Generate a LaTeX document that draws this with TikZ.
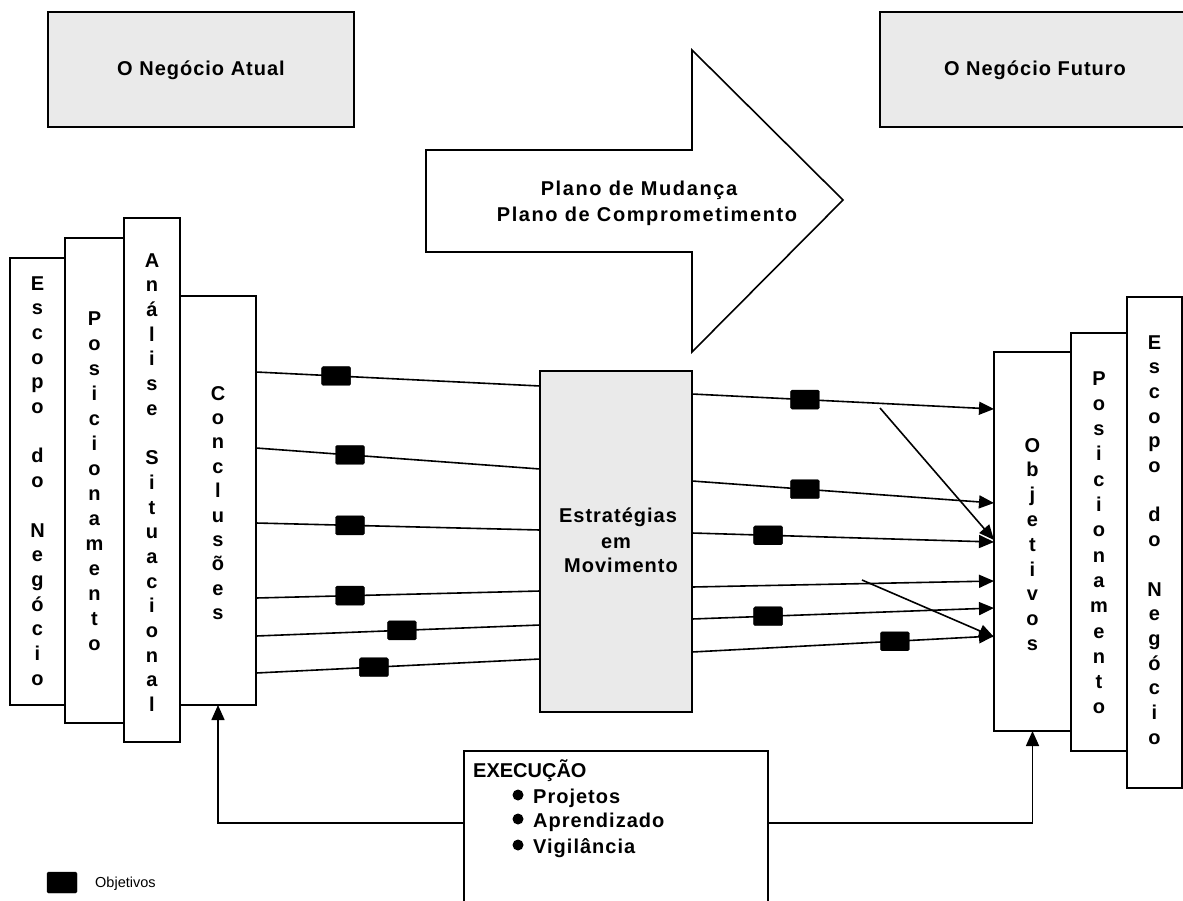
\documentclass[tikz,border=0pt]{standalone}
\usepackage{fontspec}
\setmainfont{Liberation Sans}
\newfontfamily\spacedsans{Liberation Sans}[LetterSpace=5]
\newfontfamily\widesans{Liberation Sans}[LetterSpace=8]
\usetikzlibrary{arrows.meta}
\definecolor{panelgrey}{RGB}{234,234,234}

% one letter per line, stacked down a column
\newcommand\colletters[5]{%
  \foreach \ch [count=\idx from 0] in {#5}{%
    \node[vlet] (#1-\idx) at (#2, {#3 + \idx*#4}) {\ch};
  }}

\tikzset{
  panel/.style={draw=black, line width=1.6pt, fill=white, inner sep=0pt, outer sep=0pt},
  greypanel/.style={panel, fill=panelgrey},
  objmark/.style={fill=black, draw=black, line width=0.4pt, rounded corners=1.5pt,
    minimum width=29pt, minimum height=19pt, inner sep=0pt},
  link/.style={line width=1.6pt},
  arr/.style={link, -{Triangle[length=15pt,width=13pt]}},
  vlet/.style={anchor=base, inner sep=0pt, font=\bfseries\fontsize{20}{24}\selectfont},
  label/.style={anchor=base, inner sep=0pt, font=\spacedsans\bfseries\fontsize{20}{24}\selectfont},
  arrowtext/.style={anchor=base, inner sep=0pt, font=\widesans\bfseries\fontsize{20}{24}\selectfont}
}

\begin{document}
\begin{tikzpicture}[x=1pt, y=-1pt]
\useasboundingbox (0,0) rectangle (1183,900);

% current and future business
\node[greypanel, minimum width=306pt, minimum height=115pt] (atual) at (201,69.5) {};
\node[label] (atual-t) at (201,75) {O Negócio Atual};
\node[greypanel, minimum width=308pt, minimum height=115pt] (futuro) at (1034,69.5) {};
\node[label] (futuro-t) at (1035,75) {O Negócio Futuro};

% big arrow: change plan
\draw[line width=1.6pt, fill=white]
  (426,150) -- (692,150) -- (692,50) -- (843,200) -- (692,352) -- (692,252) -- (426,252) -- cycle;
\node[arrowtext] (plano1) at (639,195) {Plano de Mudança};
\node[arrowtext] (plano2) at (647,221) {Plano de Comprometimento};

% left column stack
\node[panel, minimum width=55pt, minimum height=447pt] (escL) at (37.5,481.5) {};
\node[panel, minimum width=59pt, minimum height=485pt] (posL) at (94.5,480.5) {};
\node[panel, minimum width=56pt, minimum height=524pt] (anaL) at (152,480) {};
\node[panel, minimum width=76pt, minimum height=409pt] (conc) at (218,500.5) {};
\colletters{escL}{37.5}{290}{24.7}{E,s,c,o,p,o,{},d,o,{},N,e,g,ó,c,i,o}
\colletters{posL}{94.5}{325}{25}{P,o,s,i,c,i,o,n,a,m,e,n,t,o}
\colletters{anaL}{152}{267}{24.7}{A,n,á,l,i,s,e,{},S,i,t,u,a,c,i,o,n,a,l}
\colletters{conc}{218}{400}{24.4}{C,o,n,c,l,u,s,õ,e,s}

% right column stack
\node[panel, minimum width=55pt, minimum height=491pt] (escR) at (1154.5,542.5) {};
\node[panel, minimum width=56pt, minimum height=418pt] (posR) at (1099,542) {};
\node[panel, minimum width=77pt, minimum height=379pt] (obj) at (1032.5,541.5) {};
\colletters{escR}{1154.5}{349}{24.7}{E,s,c,o,p,o,{},d,o,{},N,e,g,ó,c,i,o}
\colletters{posR}{1099}{385}{25.3}{P,o,s,i,c,i,o,n,a,m,e,n,t,o}
\colletters{obj}{1032.5}{452}{24.8}{O,b,j,e,t,i,v,o,s}

% strategies in motion
\node[greypanel, minimum width=152pt, minimum height=341pt] (estr) at (616,541.5) {};
\node[label] (estr-1) at (618,522) {Estratégias};
\node[label] (estr-2) at (616,548) {em};
\node[label] (estr-3) at (621,572) {Movimento};

% conclusions feeding the strategies
\draw[link] (conc.east |- 0,372) -- node[objmark, pos=.282] (m1) {} (estr.west |- 0,386);
\draw[link] (conc.east |- 0,448) -- node[objmark, pos=.331] (m2) {} (estr.west |- 0,469);
\draw[link] (conc.east |- 0,523) -- node[objmark, pos=.331] (m3) {} (estr.west |- 0,530);
\draw[link] (conc.east |- 0,598) -- node[objmark, pos=.331] (m4) {} (estr.west |- 0,591);
\draw[link] (conc.east |- 0,636) -- node[objmark, pos=.514] (m5) {} (estr.west |- 0,625);
\draw[link] (conc.east |- 0,673) -- node[objmark, pos=.415] (m6) {} (estr.west |- 0,659);

% strategies reaching the objectives
\draw[arr] (estr.east |- 0,394) -- node[objmark, pos=.374] (m7) {} (obj.west |- 0,409);
\draw[arr] (estr.east |- 0,481) -- node[objmark, pos=.374] (m8) {} (obj.west |- 0,503);
\draw[arr] (estr.east |- 0,533) -- node[objmark, pos=.252] (m9) {} (obj.west |- 0,542);
\draw[arr] (estr.east |- 0,587) -- (obj.west |- 0,581);
\draw[arr] (estr.east |- 0,619) -- node[objmark, pos=.252] (m10) {} (obj.west |- 0,608);
\draw[arr] (estr.east |- 0,652) -- node[objmark, pos=.672] (m11) {} (obj.west |- 0,636);
\coordinate (d1) at (880,408);
\coordinate (d2) at (862,580);
\draw[arr] (d1) -- (obj.west |- 0,540);
\draw[arr] (d2) -- (obj.west |- 0,637);

% execution
\node[panel, minimum width=304pt, minimum height=170pt] (exec) at (616,836) {};
\node[anchor=base west, inner sep=0pt, font=\bfseries\fontsize{20}{24}\selectfont] (exec-t) at (473,777) {EXECUÇÃO};
\fill (518,795) circle (5.5pt);
\fill (518,819) circle (5.5pt);
\fill (518,845) circle (5.5pt);
\node[label, anchor=base west] (exec-1) at (533,803) {Projetos};
\node[label, anchor=base west] (exec-2) at (533,827) {Aprendizado};
\node[label, anchor=base west] (exec-3) at (533,853) {Vigilância};
\draw[arr] (exec.west |- 0,823) -| (conc.south);
\draw[arr] (exec.east |- 0,823) -| (obj.south);

% legend
\node[objmark, minimum width=30pt, minimum height=21pt] (legbox) at (62,882.5) {};
\node[anchor=base west, inner sep=0pt, font=\fontsize{14.5}{17}\selectfont] (legtext) at (95,887) {Objetivos};
\end{tikzpicture}
\end{document}
